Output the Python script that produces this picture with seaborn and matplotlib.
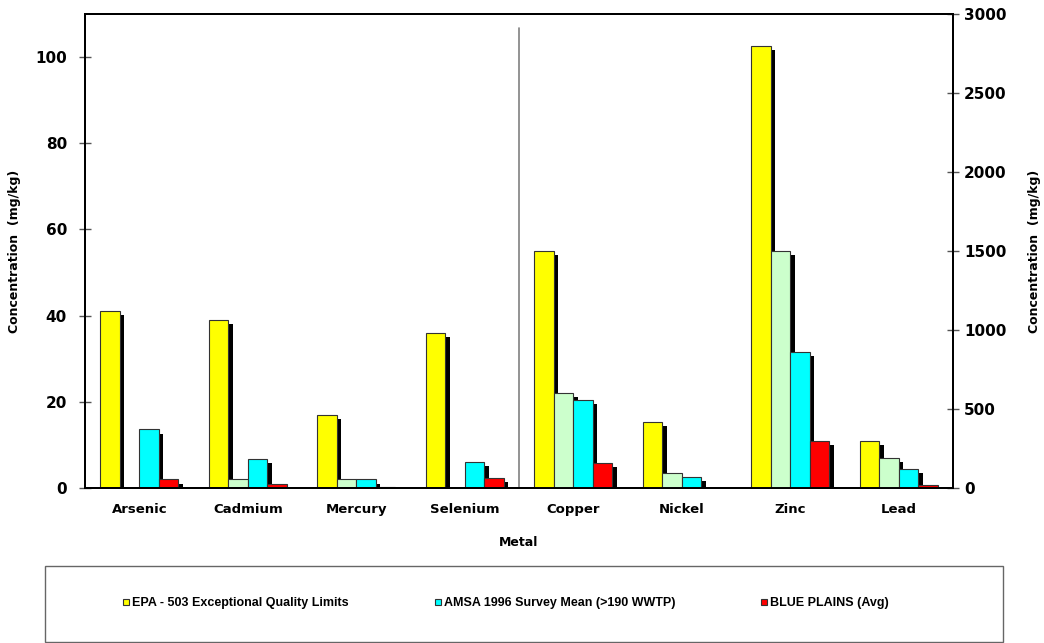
import matplotlib
matplotlib.use("Agg")
import matplotlib.pyplot as plt
import matplotlib.patheffects as pe
from matplotlib.lines import Line2D
from matplotlib.patches import Rectangle
import seaborn as sns
import pandas as pd

metals = ["Arsenic", "Cadmium", "Mercury", "Selenium", "Copper", "Nickel", "Zinc", "Lead"]
left_metals = metals[:4]
right_metals = metals[4:]
series = ["EPA - 503 Exceptional Quality Limits", "Other limit", "AMSA 1996 Survey Mean (>190 WWTP)", "BLUE PLAINS (Avg)"]
colors = ["#FFFF00", "#CCFFCC", "#00FFFF", "#FF0000"]

epa = [41, 39, 17, 36, 1500, 420, 2800, 300]
other = [0, 2, 2, 0, 600, 95, 1500, 190]
amsa = [13.6, 6.8, 2.0, 6.0, 560, 70, 860, 120]
blue = [2.0, 0.85, 0.3, 2.25, 160, 0, 300, 17]

rows = []
for vals, s in zip([epa, other, amsa, blue], series):
    for m, v in zip(metals, vals):
        rows.append({"Metal": m, "Series": s, "Value": v})
df = pd.DataFrame(rows)

sns.set_style("white")
plt.rcParams["font.family"] = ["DejaVu Sans"]
plt.rcParams["text.color"] = "black"
plt.rcParams["axes.labelcolor"] = "black"
plt.rcParams["xtick.labelcolor"] = "black"
plt.rcParams["ytick.labelcolor"] = "black"

fig = plt.figure(figsize=(10.44, 6.43), dpi=100)
ax = fig.add_axes([85/1044, 1-488/643, (953-85)/1044, (488-14)/643])
ax2 = ax.twinx()

pal = dict(zip(series, colors))
sns.barplot(data=df[df.Metal.isin(left_metals)], x="Metal", y="Value", hue="Series",
            order=metals, hue_order=series, palette=pal, width=0.72, ax=ax,
            edgecolor="#333333", linewidth=0.8, saturation=1, legend=False)
sns.barplot(data=df[df.Metal.isin(right_metals)], x="Metal", y="Value", hue="Series",
            order=metals, hue_order=series, palette=pal, width=0.72, ax=ax2,
            edgecolor="#333333", linewidth=0.8, saturation=1, legend=False)

for a in (ax, ax2):
    for p in a.patches:
        p.set_path_effects([pe.SimplePatchShadow(offset=(3.2, -3), shadow_rgbFace="black", alpha=1.0), pe.Normal()])
    a.set_xlim(-0.5, 7.5)

ax.set_ylim(0, 110)
ax2.set_ylim(0, 3000)
ax.set_yticks([0, 20, 40, 60, 80, 100])
ax2.set_yticks([0, 500, 1000, 1500, 2000, 2500, 3000])

ax.axvline(3.5, ymin=0.0, ymax=0.97, color="#808080", lw=1.2, zorder=0)

bold = dict(fontweight="bold")
ax.set_xticks(range(len(metals)))
ax.set_xticklabels(metals, fontsize=9.5, **bold)
ax.set_xticks([i + 0.5 for i in range(-1, 8)], minor=True)
ax.tick_params(axis="x", which="major", length=0, pad=11, labelcolor="black")
ax.tick_params(axis="x", which="minor", length=8, direction="inout", width=1, color="#555555")
ax.tick_params(axis="y", length=8, direction="inout", width=1, color="#555555", labelsize=11, pad=9, labelcolor="black")
ax2.tick_params(axis="y", length=8, direction="inout", width=1, color="#555555", labelsize=11, pad=4, labelcolor="black")
for lab in ax.get_yticklabels() + ax2.get_yticklabels():
    lab.set_fontweight("bold")

ax.set_xlabel("Metal", fontsize=9, labelpad=14, color="black", **bold)
ax.set_ylabel("Concentration  (mg/kg)", fontsize=9, labelpad=10, color="black", **bold)
ax2.set_ylabel("Concentration  (mg/kg)", fontsize=9, labelpad=15, color="black", **bold)

for a in (ax, ax2):
    for sp in a.spines.values():
        sp.set_visible(True)
        sp.set_color("black")
        sp.set_linewidth(1.4)
ax.grid(False)
ax2.grid(False)

# legend box
fig.patches.append(Rectangle((45/1044, 0.002), (1003-45)/1044, (643-565)/643 - 0.004,
                             transform=fig.transFigure, facecolor="white",
                             edgecolor="#666666", linewidth=1.0, zorder=0))
handles = [Line2D([], [], marker="s", linestyle="none", markersize=5,
                  markerfacecolor=c, markeredgecolor="#333333", markeredgewidth=0.8)
           for c in [colors[0], colors[2], colors[3]]]
labels = [series[0], series[2], series[3]]
leg = fig.legend(handles, labels, loc="center", bbox_to_anchor=(505/1044, 1-603/643),
                 ncol=3, frameon=False, columnspacing=6.7, handletextpad=0.1,
                 handlelength=0.8, labelcolor="black",
                 prop={"family": ["Liberation Sans Narrow", "Liberation Sans"], "weight": "bold", "size": 9})

fig.savefig("out.png", dpi=100)
